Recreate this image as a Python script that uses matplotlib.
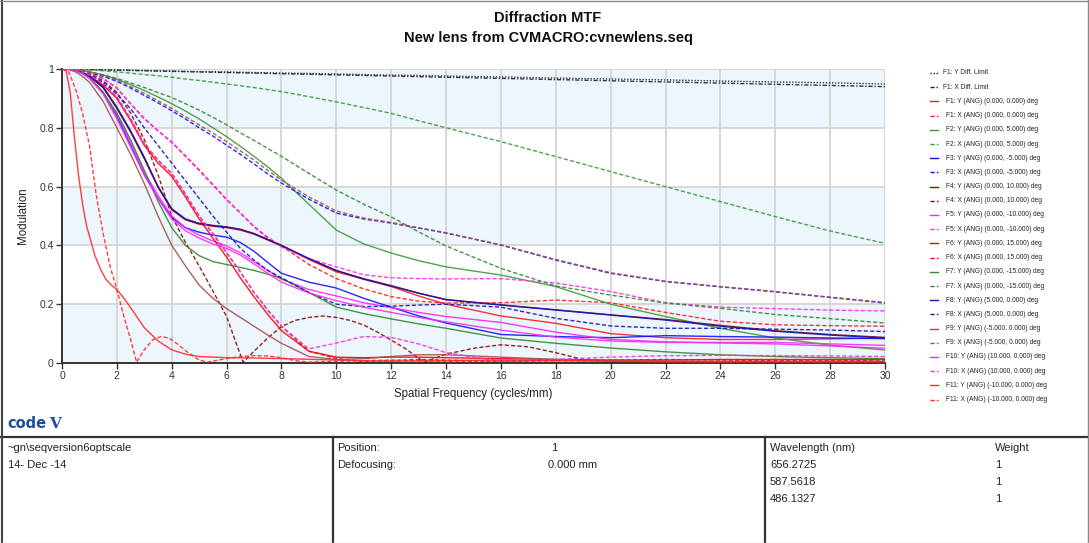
import matplotlib
matplotlib.use("Agg")
import matplotlib.pyplot as plt
from matplotlib.lines import Line2D

# ---------------------------------------------------------------- data
FREQ = [0, 0.25, 0.5, 0.75, 1, 1.5, 2, 2.5, 3, 3.5, 4, 4.5, 5, 5.5, 6, 6.5, 7,
        7.5, 8, 9, 10, 11, 12, 13, 14, 16, 18, 20, 22, 24, 26, 28, 30]

F1_Y_DIFF = [1, 1, 0.999, 0.999, 0.998, 0.997, 0.997, 0.996, 0.995, 0.994, 0.993,
             0.992, 0.991, 0.991, 0.990, 0.989, 0.988, 0.987, 0.986, 0.985, 0.983,
             0.981, 0.979, 0.978, 0.976, 0.973, 0.969, 0.966, 0.963, 0.959, 0.956,
             0.953, 0.949]
F1_X_DIFF = [1, 1, 0.999, 0.998, 0.998, 0.997, 0.996, 0.995, 0.994, 0.993, 0.992,
             0.991, 0.990, 0.989, 0.988, 0.987, 0.986, 0.985, 0.984, 0.982, 0.980,
             0.978, 0.976, 0.974, 0.972, 0.968, 0.964, 0.960, 0.956, 0.952, 0.948,
             0.944, 0.940]

F1_Y = [1, 1, 0.996, 0.988, 0.976, 0.938, 0.868, 0.788, 0.698, 0.6, 0.522, 0.487,
        0.472, 0.465, 0.46, 0.452, 0.438, 0.418, 0.398, 0.352, 0.31, 0.285, 0.26,
        0.228, 0.2, 0.16, 0.135, 0.1, 0.086, 0.08, 0.08, 0.082, 0.085]
F1_X = [1, 1, 0.997, 0.993, 0.987, 0.968, 0.935, 0.882, 0.832, 0.79, 0.752, 0.705,
        0.657, 0.607, 0.557, 0.51, 0.463, 0.425, 0.398, 0.335, 0.287, 0.252, 0.226,
        0.21, 0.204, 0.205, 0.214, 0.205, 0.172, 0.142, 0.13, 0.127, 0.125]
F2_Y = [1, 1, 0.998, 0.995, 0.99, 0.98, 0.965, 0.947, 0.927, 0.905, 0.882, 0.857,
        0.83, 0.8, 0.77, 0.737, 0.703, 0.667, 0.628, 0.54, 0.452, 0.405, 0.374,
        0.348, 0.327, 0.299, 0.26, 0.2, 0.158, 0.118, 0.085, 0.061, 0.044]
F2_X = [1, 1, 0.999, 0.998, 0.997, 0.994, 0.99, 0.986, 0.981, 0.977, 0.972, 0.966,
        0.961, 0.955, 0.949, 0.943, 0.937, 0.93, 0.923, 0.906, 0.888, 0.869, 0.849,
        0.824, 0.8, 0.753, 0.702, 0.651, 0.6, 0.549, 0.498, 0.449, 0.407]
F3_Y = [1, 1, 0.995, 0.985, 0.97, 0.92, 0.84, 0.74, 0.64, 0.56, 0.495, 0.46,
        0.445, 0.435, 0.428, 0.41, 0.38, 0.342, 0.305, 0.275, 0.255, 0.22, 0.19,
        0.16, 0.136, 0.097, 0.09, 0.086, 0.093, 0.09, 0.088, 0.085, 0.083]
F3_X = [1, 1, 0.998, 0.994, 0.988, 0.975, 0.958, 0.935, 0.91, 0.885, 0.858, 0.83,
        0.8, 0.772, 0.741, 0.71, 0.677, 0.643, 0.612, 0.557, 0.51, 0.49, 0.476,
        0.459, 0.442, 0.401, 0.35, 0.305, 0.277, 0.259, 0.242, 0.223, 0.204]
F4_Y = [1, 1, 0.996, 0.987, 0.975, 0.936, 0.866, 0.786, 0.695, 0.598, 0.522, 0.488,
        0.474, 0.467, 0.462, 0.454, 0.44, 0.42, 0.4, 0.355, 0.314, 0.287, 0.263,
        0.238, 0.216, 0.198, 0.181, 0.164, 0.148, 0.128, 0.11, 0.097, 0.087]
F4_X_FREQ = [0, 0.5, 1, 1.5, 2, 2.5, 3, 3.5, 4, 4.5, 5, 5.5, 6, 6.3, 6.6, 7, 7.5,
             8, 8.5, 9, 9.5, 10, 10.5, 11, 11.5, 12, 12.5, 13.2, 14, 15, 16, 17,
             18, 19, 20, 22, 24, 26, 28, 30]
F4_X = [1, 0.997, 0.985, 0.96, 0.92, 0.85, 0.76, 0.64, 0.5, 0.41, 0.33, 0.245,
        0.158, 0.08, 0.003, 0.04, 0.085, 0.124, 0.145, 0.155, 0.16, 0.155, 0.145,
        0.129, 0.105, 0.078, 0.05, 0.003, 0.03, 0.05, 0.062, 0.055, 0.035, 0.012,
        0.005, 0.004, 0.004, 0.004, 0.004, 0.004]
F5_Y = [1, 1, 0.995, 0.985, 0.97, 0.92, 0.845, 0.75, 0.65, 0.57, 0.5, 0.46, 0.435,
        0.415, 0.398, 0.375, 0.345, 0.315, 0.285, 0.25, 0.228, 0.205, 0.188, 0.172,
        0.158, 0.138, 0.105, 0.08, 0.072, 0.068, 0.065, 0.058, 0.05]
F5_X = [1, 1, 0.997, 0.993, 0.987, 0.968, 0.935, 0.882, 0.83, 0.79, 0.75, 0.703,
        0.655, 0.605, 0.555, 0.51, 0.465, 0.428, 0.395, 0.355, 0.327, 0.3, 0.29,
        0.287, 0.286, 0.287, 0.272, 0.243, 0.205, 0.19, 0.185, 0.18, 0.177]
F6_Y = [1, 1, 0.996, 0.988, 0.977, 0.945, 0.9, 0.825, 0.74, 0.68, 0.635, 0.565,
        0.49, 0.425, 0.36, 0.29, 0.225, 0.165, 0.11, 0.04, 0.02, 0.018, 0.02, 0.02,
        0.018, 0.015, 0.012, 0.01, 0.01, 0.012, 0.012, 0.012, 0.012]
F6_X = [1, 1, 0.997, 0.99, 0.98, 0.95, 0.905, 0.83, 0.745, 0.69, 0.645, 0.575,
        0.5, 0.44, 0.375, 0.31, 0.24, 0.18, 0.125, 0.04, 0.015, 0.005, 0.008,
        0.012, 0.01, 0.005, 0.008, 0.01, 0.012, 0.01, 0.008, 0.008, 0.01]
F7_Y = [1, 1, 0.995, 0.985, 0.97, 0.92, 0.85, 0.76, 0.655, 0.55, 0.46, 0.4, 0.365,
        0.345, 0.335, 0.325, 0.315, 0.302, 0.288, 0.24, 0.19, 0.168, 0.15, 0.133,
        0.118, 0.085, 0.067, 0.051, 0.038, 0.028, 0.022, 0.018, 0.015]
F7_X = [1, 1, 0.998, 0.995, 0.99, 0.98, 0.968, 0.953, 0.937, 0.92, 0.903, 0.882,
        0.86, 0.836, 0.81, 0.783, 0.757, 0.73, 0.703, 0.645, 0.588, 0.54, 0.497,
        0.446, 0.398, 0.322, 0.262, 0.231, 0.204, 0.186, 0.165, 0.151, 0.136]
F8_Y = [1, 1, 0.996, 0.988, 0.977, 0.94, 0.87, 0.79, 0.7, 0.6, 0.525, 0.49, 0.475,
        0.468, 0.463, 0.455, 0.44, 0.42, 0.4, 0.355, 0.315, 0.285, 0.262, 0.237,
        0.215, 0.197, 0.18, 0.163, 0.146, 0.125, 0.108, 0.095, 0.085]
F8_X = [1, 1, 0.997, 0.99, 0.98, 0.955, 0.915, 0.865, 0.8, 0.74, 0.68, 0.62, 0.56,
        0.5, 0.445, 0.39, 0.35, 0.315, 0.29, 0.24, 0.2, 0.192, 0.193, 0.197, 0.2,
        0.19, 0.152, 0.126, 0.118, 0.118, 0.115, 0.112, 0.107]
F9_Y = [1, 0.998, 0.99, 0.975, 0.955, 0.89, 0.8, 0.71, 0.61, 0.5, 0.4, 0.33, 0.265,
        0.22, 0.185, 0.155, 0.125, 0.095, 0.067, 0.022, 0.012, 0.015, 0.022, 0.028,
        0.028, 0.02, 0.012, 0.008, 0.006, 0.005, 0.005, 0.005, 0.005]
F9_X = [1, 1, 0.998, 0.995, 0.99, 0.978, 0.962, 0.94, 0.917, 0.892, 0.866, 0.838,
        0.81, 0.782, 0.753, 0.722, 0.69, 0.655, 0.622, 0.565, 0.517, 0.493, 0.478,
        0.46, 0.443, 0.402, 0.352, 0.307, 0.278, 0.26, 0.243, 0.224, 0.206]
F10_Y = [1, 1, 0.995, 0.984, 0.968, 0.915, 0.83, 0.735, 0.64, 0.56, 0.49, 0.45,
         0.425, 0.405, 0.39, 0.367, 0.337, 0.305, 0.275, 0.238, 0.212, 0.19, 0.172,
         0.155, 0.14, 0.112, 0.088, 0.075, 0.07, 0.07, 0.07, 0.065, 0.06]
F10_X = [1, 1, 0.997, 0.99, 0.98, 0.95, 0.905, 0.83, 0.745, 0.69, 0.645, 0.575,
         0.5, 0.44, 0.375, 0.31, 0.24, 0.18, 0.125, 0.048, 0.068, 0.09, 0.087,
         0.065, 0.035, 0.006, 0.012, 0.02, 0.025, 0.026, 0.025, 0.024, 0.022]
F11_Y_FREQ = [0, 0.15, 0.3, 0.45, 0.6, 0.75, 0.9, 1.05, 1.2, 1.4, 1.6, 1.8, 2,
              2.3, 2.6, 3, 3.5, 4, 4.5, 5, 6, 7, 8, 10, 12, 14, 16, 18, 20, 22,
              24, 26, 28, 30]
F11_Y = [1, 0.995, 0.92, 0.77, 0.64, 0.54, 0.465, 0.415, 0.365, 0.32, 0.285,
         0.265, 0.25, 0.215, 0.175, 0.12, 0.075, 0.045, 0.03, 0.022, 0.018, 0.017,
         0.015, 0.01, 0.006, 0.008, 0.01, 0.008, 0.006, 0.005, 0.005, 0.005,
         0.005, 0.005]
F11_X_FREQ = [0, 0.25, 0.5, 0.75, 1, 1.25, 1.5, 1.75, 2, 2.25, 2.5, 2.72, 3, 3.3,
              3.6, 3.9, 4.2, 4.6, 5, 5.3, 6, 6.5, 7, 7.5, 8, 8.5, 9, 10, 12, 14,
              16, 18, 20, 22, 24, 26, 28, 30]
F11_X = [1, 0.99, 0.93, 0.85, 0.74, 0.57, 0.44, 0.33, 0.25, 0.16, 0.08, 0.003,
         0.045, 0.078, 0.09, 0.085, 0.065, 0.035, 0.01, 0.003, 0.015, 0.022, 0.025,
         0.024, 0.018, 0.008, 0.003, 0.006, 0.01, 0.005, 0.006, 0.008, 0.006,
         0.004, 0.004, 0.004, 0.004, 0.004]

LABELS = [
    "F1: Y Diff. Limit", "F1: X Diff. Limit",
    "F1: Y (ANG) (0.000, 0.000) deg", "F1: X (ANG) (0.000, 0.000) deg",
    "F2: Y (ANG) (0.000, 5.000) deg", "F2: X (ANG) (0.000, 5.000) deg",
    "F3: Y (ANG) (0.000, -5.000) deg", "F3: X (ANG) (0.000, -5.000) deg",
    "F4: Y (ANG) (0.000, 10.000) deg", "F4: X (ANG) (0.000, 10.000) deg",
    "F5: Y (ANG) (0.000, -10.000) deg", "F5: X (ANG) (0.000, -10.000) deg",
    "F6: Y (ANG) (0.000, 15.000) deg", "F6: X (ANG) (0.000, 15.000) deg",
    "F7: Y (ANG) (0.000, -15.000) deg", "F7: X (ANG) (0.000, -15.000) deg",
    "F8: Y (ANG) (5.000, 0.000) deg", "F8: X (ANG) (5.000, 0.000) deg",
    "F9: Y (ANG) (-5.000, 0.000) deg", "F9: X (ANG) (-5.000, 0.000) deg",
    "F10: Y (ANG) (10.000, 0.000) deg", "F10: X (ANG) (10.000, 0.000) deg",
    "F11: Y (ANG) (-10.000, 0.000) deg", "F11: X (ANG) (-10.000, 0.000) deg",
]

X_TICKS = list(range(0, 31, 2))
Y_TICKS = [0, 0.2, 0.4, 0.6, 0.8, 1]
Y_TICK_LABELS = ["0", "0.2", "0.4", "0.6", "0.8", "1"]

WAVELENGTHS = ["656.2725", "587.5618", "486.1327"]
WEIGHTS = ["1", "1", "1"]

# ---------------------------------------------------------------- styles
FIELD_COLORS = {
    "F1": "#ff1a1a", "F2": "#3a9a3a", "F3": "#1010ff", "F4": "#8b0a0a",
    "F5": "#ff22ff", "F6": "#ff0000", "F7": "#2f8a2f", "F8": "#1616b8",
    "F9": "#a5504a", "F10": "#f030f0", "F11": "#ff2a2a",
}
SOLID = "-"
DASH = (0, (3, 1.6))
DOT = (0, (1, 1.2))
DASHDOT = (0, (3, 1.3, 1, 1.3))

series = [
    (FREQ, F1_Y_DIFF, "#222222", DOT),
    (FREQ, F1_X_DIFF, "#222222", DASHDOT),
    (FREQ, F1_Y, FIELD_COLORS["F1"], SOLID),
    (FREQ, F1_X, FIELD_COLORS["F1"], DASH),
    (FREQ, F2_Y, FIELD_COLORS["F2"], SOLID),
    (FREQ, F2_X, FIELD_COLORS["F2"], DASH),
    (FREQ, F3_Y, FIELD_COLORS["F3"], SOLID),
    (FREQ, F3_X, FIELD_COLORS["F3"], DASH),
    (FREQ, F4_Y, FIELD_COLORS["F4"], SOLID),
    (F4_X_FREQ, F4_X, FIELD_COLORS["F4"], DASH),
    (FREQ, F5_Y, FIELD_COLORS["F5"], SOLID),
    (FREQ, F5_X, FIELD_COLORS["F5"], DASH),
    (FREQ, F6_Y, FIELD_COLORS["F6"], SOLID),
    (FREQ, F6_X, FIELD_COLORS["F6"], DASH),
    (FREQ, F7_Y, FIELD_COLORS["F7"], SOLID),
    (FREQ, F7_X, FIELD_COLORS["F7"], DASH),
    (FREQ, F8_Y, FIELD_COLORS["F8"], SOLID),
    (FREQ, F8_X, FIELD_COLORS["F8"], DASH),
    (FREQ, F9_Y, FIELD_COLORS["F9"], SOLID),
    (FREQ, F9_X, FIELD_COLORS["F9"], DASH),
    (FREQ, F10_Y, FIELD_COLORS["F10"], SOLID),
    (FREQ, F10_X, FIELD_COLORS["F10"], DASH),
    (F11_Y_FREQ, F11_Y, FIELD_COLORS["F11"], SOLID),
    (F11_X_FREQ, F11_X, FIELD_COLORS["F11"], DASH),
]

# ---------------------------------------------------------------- figure
W, H = 1089, 543
plt.rcParams["font.family"] = ["Liberation Sans", "DejaVu Sans"]
fig = plt.figure(figsize=(W / 100, H / 100), dpi=100)
fig.patch.set_facecolor("white")


def fx(px):
    return px / W


def fy(py):
    return 1 - py / H


ax = fig.add_axes([fx(62), fy(363), (885 - 62) / W, (363 - 69) / H])
ax.set_xlim(0, 30)
ax.set_ylim(0, 1)
ax.set_facecolor("white")
for lo in (0.0, 0.4, 0.8):
    ax.axhspan(lo, lo + 0.2, color="#edf5fd", lw=0, zorder=0)

ax.set_xticks(X_TICKS)
ax.set_yticks(Y_TICKS)
ax.set_yticklabels(Y_TICK_LABELS)
ax.grid(True, color="#d4d4d4", lw=1.3)
ax.set_axisbelow(True)
for side in ("top", "right"):
    ax.spines[side].set_visible(False)
for side in ("left", "bottom"):
    ax.spines[side].set_color("#333333")
    ax.spines[side].set_linewidth(1.4)
ax.tick_params(axis="both", colors="#333333", labelsize=7.5, length=4,
               width=1.0, pad=2)

for xs, ys, color, ls in series:
    ax.plot(xs, ys, color=color, linestyle=ls, lw=1.0, alpha=0.9, zorder=3)

ax.set_xlabel("Spatial Frequency (cycles/mm)", fontsize=8.3, color="#222222",
              labelpad=5)
ax.set_ylabel("Modulation", fontsize=8.3, color="#222222", labelpad=7)

# titles
fig.text(fx(548), fy(18), "Diffraction MTF", ha="center", va="center",
         fontsize=10.5, fontweight="bold", color="#111111")
fig.text(fx(548), fy(38), "New lens from CVMACRO:cvnewlens.seq", ha="center",
         va="center", fontsize=10.5, fontweight="bold", color="#111111")

# legend column
for i, ((xs, ys, color, ls), label) in enumerate(zip(series, LABELS)):
    yy = 73 + i * 14.2
    fig.add_artist(Line2D([fx(930), fx(938)], [fy(yy), fy(yy)], color=color,
                          linestyle=ls, lw=1.0))
    fig.text(fx(943 if i < 2 else 946), fy(yy), label, fontsize=4.8,
             ha="left", va="center", color="#222222")

# logo
fig.text(fx(7), fy(424), "code", fontsize=10.5, fontweight="bold",
         family="DejaVu Sans", color="#1d4f9e", ha="left", va="center")
fig.text(fx(49), fy(424), "V", fontsize=11, fontweight="bold",
         family="DejaVu Serif", color="#1d4f9e", ha="left", va="center")

# info table
frame = dict(color="#333333", lw=1.6)
fig.add_artist(Line2D([0, 1], [fy(437), fy(437)], **frame))
fig.add_artist(Line2D([fx(333), fx(333)], [fy(437), 0], **frame))
fig.add_artist(Line2D([fx(765), fx(765)], [fy(437), 0], **frame))
fig.add_artist(Line2D([fx(1.5), fx(1.5)], [0, 1], color="#444444", lw=1.5))
fig.add_artist(Line2D([fx(1087.5), fx(1087.5)], [0, 1], color="#888888", lw=1.0))
fig.add_artist(Line2D([0, 1], [fy(0.5), fy(0.5)], color="#888888", lw=1.0))
fig.add_artist(Line2D([0, 1], [fy(542.5), fy(542.5)], color="#cccccc", lw=1.0))

txt = dict(fontsize=8, color="#222222", ha="left", va="center")
fig.text(fx(8), fy(448), "~gn\\seqversion6optscale", **txt)
fig.text(fx(8), fy(465), "14- Dec -14", **txt)
fig.text(fx(337), fy(448), "Position:", **txt)
fig.text(fx(337), fy(465), "Defocusing:", **txt)
fig.text(fx(551), fy(448), "1", **txt)
fig.text(fx(548), fy(465), "0.000 mm", **txt)
fig.text(fx(770), fy(448), "Wavelength (nm)", **txt)
fig.text(fx(995), fy(448), "Weight", **txt)
for k, (wl, wt) in enumerate(zip(WAVELENGTHS, WEIGHTS)):
    fig.text(fx(770), fy(465 + 17 * k), wl, **txt)
    fig.text(fx(995), fy(465 + 17 * k), wt, **txt)

fig.savefig("out.png", dpi=100, facecolor="white")
